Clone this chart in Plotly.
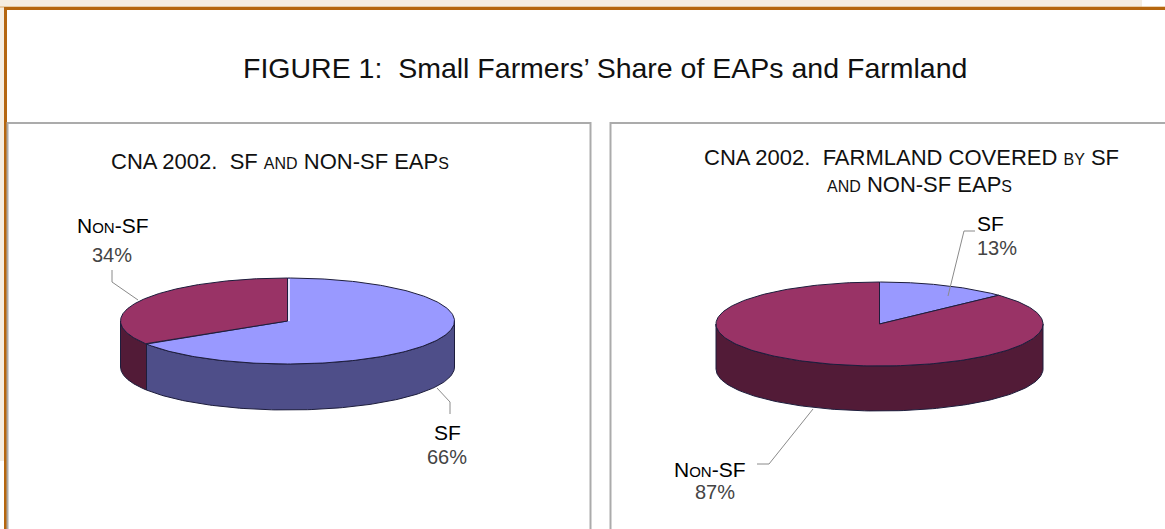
import numpy as np
import plotly.graph_objects as go

# ---- data ----
categories = ["SF", "Non-SF"]
eaps_pct = [66, 34]          # CNA 2002: SF and non-SF EAPs
farmland_pct = [13, 87]      # CNA 2002: farmland covered by SF and non-SF EAPs
label_text = ["SF", "N<span style='font-size:15px'>ON</span>-SF"]

W, H = 1165, 529
FONT = "Liberation Sans, Arial, Helvetica, sans-serif"

top_colors = {"SF": "#9999ff", "Non-SF": "#993366"}
side_colors = {"SF": "#4e4e89", "Non-SF": "#521b37"}
EDGE = "#1d1d3c"

pies = [
    dict(values=eaps_pct, cx=287.5, cy=321, rx=167, ry=43, depth=46),
    dict(values=farmland_pct, cx=879.5, cy=324, rx=163.5, ry=42, depth=45),
]


def pt(p, theta, dy=0.0):
    phi = np.radians(90 - np.asarray(theta, dtype=float))
    return p["cx"] + p["rx"] * np.cos(phi), p["cy"] - p["ry"] * np.sin(phi) + dy


fig = go.Figure()

for p in pies:
    vals = np.array(p["values"], dtype=float)
    ends = np.cumsum(vals) / vals.sum() * 360.0
    starts = np.concatenate([[0.0], ends[:-1]])
    # side walls (front half only)
    for cat, a, b in zip(categories, starts, ends):
        lo, hi = max(a, 90.0), min(b, 270.0)
        if hi <= lo:
            continue
        ts = np.linspace(lo, hi, 120)
        xt, yt = pt(p, ts)
        xb, yb = pt(p, ts[::-1], p["depth"])
        xs = np.concatenate([xt, xb, xt[:1]])
        ys = np.concatenate([yt, yb, yt[:1]])
        fig.add_trace(go.Scatter(x=xs, y=ys, mode="lines", fill="toself",
                                 fillcolor=side_colors[cat],
                                 line=dict(color=EDGE, width=1),
                                 hoverinfo="skip", showlegend=False))
    # top faces
    for cat, a, b in zip(categories, starts, ends):
        ts = np.linspace(a, b, 240)
        xa, ya = pt(p, ts)
        xs = np.concatenate([[p["cx"]], xa, [p["cx"]]])
        ys = np.concatenate([[p["cy"]], ya, [p["cy"]]])
        fig.add_trace(go.Scatter(x=xs, y=ys, mode="lines", fill="toself",
                                 fillcolor=top_colors[cat],
                                 line=dict(color=EDGE, width=1),
                                 hoverinfo="skip", showlegend=False))

# thin white seam at 12 o'clock on the left pie
p0 = pies[0]
xt0, yt0 = pt(p0, 0.0)
fig.add_trace(go.Scatter(x=[p0["cx"] + 1.5, xt0 + 1.5], y=[p0["cy"], yt0 + 1],
                         mode="lines", line=dict(color="white", width=1.5),
                         hoverinfo="skip", showlegend=False))

shapes = []
# page background strips and frame
shapes.append(dict(type="rect", x0=0, x1=1142, y0=0, y1=7, fillcolor="#f5ede1", line_width=0, layer="below"))
shapes.append(dict(type="rect", x0=0, x1=4, y0=0, y1=461, fillcolor="#f5ede1", line_width=0, layer="below"))
shapes.append(dict(type="line", x0=0, x1=W, y0=7, y1=7, line=dict(color="#d9a868", width=1)))
shapes.append(dict(type="line", x0=5.5, x1=W, y0=8.5, y1=8.5, line=dict(color="#b5660f", width=3)))
shapes.append(dict(type="line", x0=5.5, x1=5.5, y0=7, y1=H, line=dict(color="#b5660f", width=3)))
# panel boxes
shapes.append(dict(type="rect", x0=7.5, x1=590.5, y0=123, y1=H + 20, line=dict(color="#ababab", width=2)))
shapes.append(dict(type="rect", x0=610.5, x1=W + 20, y0=123, y1=H + 20, line=dict(color="#ababab", width=2)))
# leader lines
LEAD = dict(color="#8a8a8a", width=1)
shapes.append(dict(type="path", path="M 138 300 L 112 282 L 112 270", line=LEAD))
shapes.append(dict(type="path", path="M 437 388 L 450 402 L 450 414", line=LEAD))
shapes.append(dict(type="path", path="M 948 296 L 964 231 L 975 231", line=LEAD))
shapes.append(dict(type="path", path="M 813 409 L 769 464 L 757 464", line=LEAD))

ann = []


def txt(x, y, s, size, color="#000000"):
    ann.append(dict(x=x, y=y, text=s, showarrow=False, xanchor="center", yanchor="middle",
                    font=dict(family=FONT, size=size, color=color)))


sm = "<span style='font-size:16px'>{}</span>"
txt(605, 68, "FIGURE 1:\u00a0\u00a0Small Farmers\u2019 Share of EAPs and Farmland", 28.5, "#111111")
txt(280, 161, "CNA 2002.\u00a0\u00a0SF " + sm.format("AND") + " NON-SF EAP" + sm.format("S"), 22, "#111111")
txt(911, 157, "CNA 2002.\u00a0\u00a0FARMLAND COVERED " + sm.format("BY") + " SF", 22, "#111111")
txt(919, 184, sm.format("AND") + " NON-SF EAP" + sm.format("S"), 22, "#111111")

# slice labels (name + percentage)
txt(113, 225, label_text[1], 21)
txt(112, 255, f"{eaps_pct[1]}%", 20, "#444444")
txt(447, 432, label_text[0], 21)
txt(447, 457, f"{eaps_pct[0]}%", 20, "#444444")
txt(990, 223, label_text[0], 21)
txt(997, 248, f"{farmland_pct[0]}%", 20, "#444444")
txt(710, 469, label_text[1], 21)
txt(715, 492, f"{farmland_pct[1]}%", 20, "#444444")

fig.update_layout(
    width=W, height=H, margin=dict(l=0, r=0, t=0, b=0),
    paper_bgcolor="white", plot_bgcolor="white",
    xaxis=dict(range=[0, W], visible=False, fixedrange=True),
    yaxis=dict(range=[H, 0], visible=False, fixedrange=True),
    shapes=shapes, annotations=ann, showlegend=False, dragmode=False,
)

fig.write_html("out.html", config={"displayModeBar": False},
               post_script="document.body.style.margin='0';document.body.style.padding='0';document.body.style.overflow='hidden';")
